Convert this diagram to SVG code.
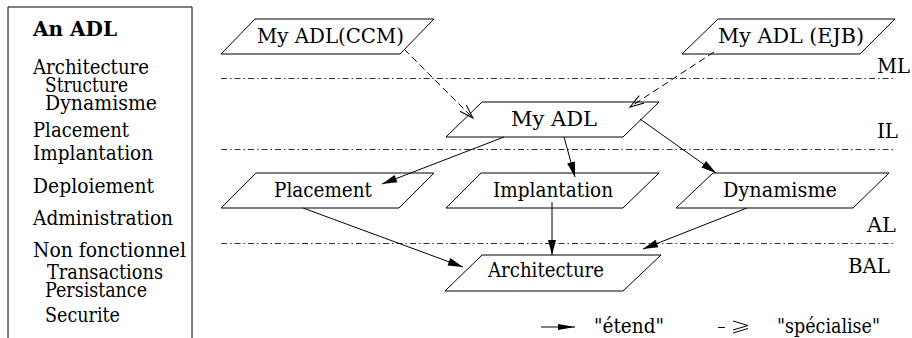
<svg xmlns="http://www.w3.org/2000/svg" width="912" height="338" viewBox="0 0 912 338">
<style>
text{font-family:"DejaVu Serif","Liberation Serif",serif;font-size:20px;fill:#000}
.b{font-weight:bold}
.node{fill:#fff;stroke:#000;stroke-width:1}
.lvl{stroke:#333;stroke-width:1;stroke-dasharray:6 3 1.5 3;fill:none}
.ext{stroke:#000;stroke-width:1;fill:none;marker-end:url(#fa)}
.spe{stroke:#000;stroke-width:1;fill:none;stroke-dasharray:7 4;marker-end:url(#oa)}
</style>
<defs>
<marker id="fa" markerUnits="userSpaceOnUse" markerWidth="16" markerHeight="8" refX="15" refY="4" orient="auto" overflow="visible">
<path d="M0,0 L15,4 L0,8 z" fill="#000"/>
</marker>
<marker id="fal" markerUnits="userSpaceOnUse" markerWidth="18" markerHeight="6" refX="17" refY="3" orient="auto" overflow="visible">
<path d="M0,0 L17,3 L0,6 z" fill="#000"/>
</marker>
<marker id="oa" markerUnits="userSpaceOnUse" markerWidth="14" markerHeight="9" refX="14" refY="4.5" orient="auto" overflow="visible">
<path d="M0,0 L14,4.5 L0,9" fill="none" stroke="#000" stroke-width="1"/>
</marker>
</defs>
<rect width="912" height="338" fill="#fff"/>

<g id="panel">
<path d="M8,345 V7 H192 V345" fill="none" stroke="#000" stroke-width="1"/>
<text class="b" x="33" y="36" textLength="84" lengthAdjust="spacingAndGlyphs">An ADL</text>
<text x="33" y="74" textLength="116" lengthAdjust="spacingAndGlyphs">Architecture</text>
<text x="45" y="92" textLength="83" lengthAdjust="spacingAndGlyphs">Structure</text>
<text x="45" y="110" textLength="112" lengthAdjust="spacingAndGlyphs">Dynamisme</text>
<text x="33" y="137" textLength="96" lengthAdjust="spacingAndGlyphs">Placement</text>
<text x="33" y="160" textLength="120" lengthAdjust="spacingAndGlyphs">Implantation</text>
<text x="33" y="193" textLength="121" lengthAdjust="spacingAndGlyphs">Deploiement</text>
<text x="33" y="225" textLength="140" lengthAdjust="spacingAndGlyphs">Administration</text>
<text x="33" y="257" textLength="153" lengthAdjust="spacingAndGlyphs">Non fonctionnel</text>
<text x="47" y="279" textLength="116" lengthAdjust="spacingAndGlyphs">Transactions</text>
<text x="45" y="297" textLength="102" lengthAdjust="spacingAndGlyphs">Persistance</text>
<text x="45" y="322" textLength="75" lengthAdjust="spacingAndGlyphs">Securite</text>
</g>

<g id="levels">
<line class="lvl" x1="221" y1="78.5" x2="895" y2="78.5"/>
<line class="lvl" x1="221" y1="149.5" x2="895" y2="149.5"/>
<line class="lvl" x1="221" y1="243.5" x2="895" y2="243.5"/>
<text x="877" y="73" textLength="33" lengthAdjust="spacingAndGlyphs">ML</text>
<text x="877" y="138" textLength="21" lengthAdjust="spacingAndGlyphs">IL</text>
<text x="867" y="232" textLength="29" lengthAdjust="spacingAndGlyphs">AL</text>
<text x="848" y="273" textLength="42" lengthAdjust="spacingAndGlyphs">BAL</text>
</g>

<g id="ccm">
<polygon class="node" points="255,19 434,19 400,54 221,54"/>
<text x="257" y="43" textLength="147" lengthAdjust="spacingAndGlyphs">My ADL(CCM)</text>
</g>
<g id="ejb">
<polygon class="node" points="718,19 895,19 860,54 682,54"/>
<text x="718" y="43" textLength="146" lengthAdjust="spacingAndGlyphs">My ADL (EJB)</text>
</g>
<g id="myadl">
<polygon class="node" points="482,102 659,102 623,137 446,137"/>
<text x="511" y="126" textLength="86" lengthAdjust="spacingAndGlyphs">My ADL</text>
</g>
<g id="placement">
<polygon class="node" points="256,173 434,173 399,208 221,208"/>
<text x="274" y="197" textLength="98" lengthAdjust="spacingAndGlyphs">Placement</text>
</g>
<g id="implantation">
<polygon class="node" points="481,173 659,173 623,208 446,208"/>
<text x="493" y="197" textLength="120" lengthAdjust="spacingAndGlyphs">Implantation</text>
</g>
<g id="dynamisme">
<polygon class="node" points="713,173 889,173 853,208 676,208"/>
<text x="723" y="197" textLength="114" lengthAdjust="spacingAndGlyphs">Dynamisme</text>
</g>
<g id="architecture">
<polygon class="node" points="482,255 661,255 623,291 445,291"/>
<text x="488" y="277" textLength="116" lengthAdjust="spacingAndGlyphs">Architecture</text>
</g>

<g id="connectors">
<line class="spe" x1="404" y1="49" x2="473" y2="118"/>
<line class="spe" x1="714" y1="52" x2="630" y2="107"/>
<line class="ext" x1="504" y1="137" x2="382" y2="184"/>
<line class="ext" x1="564" y1="137" x2="575" y2="177"/>
<line class="ext" x1="640" y1="119" x2="716" y2="173"/>
<line class="ext" x1="303" y1="208" x2="463" y2="267"/>
<line class="ext" x1="552" y1="202" x2="552" y2="255"/>
<line class="ext" x1="747" y1="208" x2="643" y2="249"/>
</g>

<g id="legend">
<line x1="541" y1="327" x2="575" y2="327" stroke="#000" stroke-width="1" marker-end="url(#fal)"/>
<text x="594" y="333" textLength="70" lengthAdjust="spacingAndGlyphs">"étend"</text>
<line x1="718" y1="327.5" x2="725" y2="327.5" stroke="#000" stroke-width="1"/>
<polyline points="733,321 748,325.5 733,330" fill="none" stroke="#000" stroke-width="1"/>
<line x1="733" y1="333" x2="748" y2="328.5" stroke="#000" stroke-width="1"/>
<text x="777" y="333" textLength="103" lengthAdjust="spacingAndGlyphs">"spécialise"</text>
</g>
</svg>
